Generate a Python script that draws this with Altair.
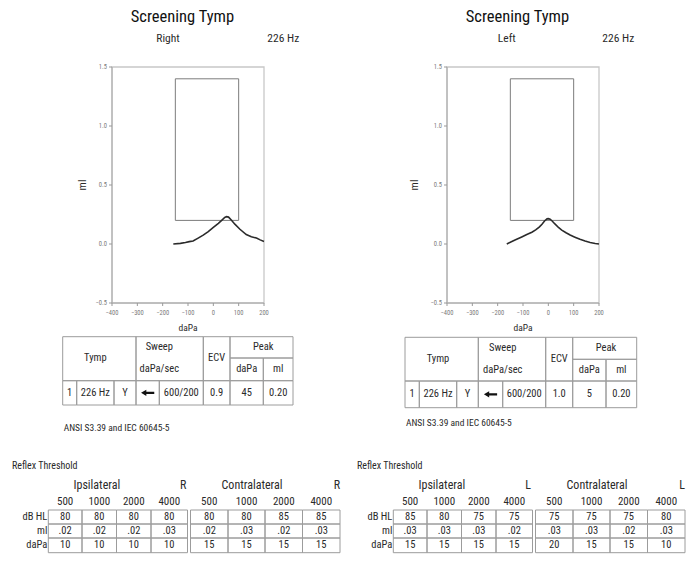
import altair as alt
import pandas as pd

# ---------------- values ----------------
TITLE = "Screening Tymp"
PROBE = "226 Hz"
EAR_R, EAR_L = "Right", "Left"
X_TITLE, Y_TITLE = "daPa", "ml"

X_TICKS = [-400, -300, -200, -100, 0, 100, 200]
Y_TICKS = [-0.5, 0.0, 0.5, 1.0, 1.5]
BOX_DAPA = [-150, 100]
BOX_ML = [0.2, 1.4]

dapa_R = [-158, -130, -110, -95, -80, -60, -40, -20, 0, 20, 35, 45, 52, 60, 70, 85, 105, 130, 150, 170, 185, 200]
ml_R = [0.0, 0.005, 0.012, 0.02, 0.025, 0.05, 0.075, 0.105, 0.14, 0.175, 0.205, 0.225, 0.232, 0.228, 0.205, 0.168,
        0.125, 0.08, 0.062, 0.05, 0.035, 0.022]
dapa_L = [-164, -140, -125, -105, -85, -65, -50, -35, -25, -15, -5, 0, 7, 15, 26, 40, 53, 70, 86, 105, 125, 145,
          165, 185, 200]
ml_L = [0.0, 0.025, 0.04, 0.06, 0.08, 0.1, 0.12, 0.145, 0.168, 0.195, 0.213, 0.215, 0.21, 0.195, 0.17, 0.14, 0.118,
        0.095, 0.076, 0.058, 0.04, 0.025, 0.012, 0.004, 0.0]

TYMP_HEAD = ["Tymp", "Sweep", "daPa/sec", "ECV", "Peak", "daPa", "ml"]
tymp_row_R = ["1", "226 Hz", "Y", "←", "600/200", "0.9", "45", "0.20"]
tymp_row_L = ["1", "226 Hz", "Y", "←", "600/200", "1.0", "5", "0.20"]
STANDARD = "ANSI S3.39 and IEC 60645-5"

REFLEX_TITLE = "Reflex Threshold"
GROUPS = ["Ipsilateral", "Contralateral"]
FREQS = ["500", "1000", "2000", "4000"]
ROW_NAMES = ["dB HL", "ml", "daPa"]

ipsi_dbhl_R = ["80", "80", "80", "80"]
ipsi_ml_R = [".02", ".02", ".02", ".03"]
ipsi_dapa_R = ["10", "10", "10", "10"]
contra_dbhl_R = ["80", "80", "85", "85"]
contra_ml_R = [".02", ".03", ".02", ".03"]
contra_dapa_R = ["15", "15", "15", "15"]

ipsi_dbhl_L = ["85", "80", "75", "75"]
ipsi_ml_L = [".03", ".03", ".03", ".02"]
ipsi_dapa_L = ["15", "15", "15", "15"]
contra_dbhl_L = ["75", "75", "75", "80"]
contra_ml_L = [".03", ".03", ".02", ".03"]
contra_dapa_L = ["20", "15", "15", "10"]

# ---------------- layout (pixel positions of the page) ----------------
M = 8  # page margin
FONT = "Roboto Condensed, Liberation Sans Narrow, Arial Narrow, Liberation Sans, sans-serif"
INK = "#2a2a2a"
GRID = "#9c9c9c"

PLOT_Y = [303, 67]
PLOT_X_R, PLOT_X_L = [112, 264], [447, 599]
TT_X_R = [62.7, 76.7, 114, 136, 159.3, 203.3, 230, 263.3, 293]
TT_Y_R = [336.7, 358, 380.7, 405, 428]
TT_X_L = [405, 419.3, 456.7, 478.3, 502.7, 545.7, 572.7, 606, 636.7]
TT_Y_L = [337.3, 359.3, 381, 407.7, 423.3]
RF_X_R = [12, 48.3, 82, 116.5, 151, 187.5, 190.5, 228, 265, 302.5, 340]
RF_X_L = [v + 345 for v in RF_X_R]
RF_Y = [466, 485, 502, 510, 524, 538, 552.7]

HEAD_CELLS = [(0, 3, 0, 2), (3, 5, 0, 2), (5, 6, 0, 2), (6, 8, 0, 1), (6, 7, 1, 2), (7, 8, 1, 2)]
HEAD_POS = [(1.5, 1), (4, 0.5), (4, 1.5), (5.5, 1), (7, 0.5), (6.5, 1.5), (7.5, 1.5)]
ARROW = "M -1 0 L -0.2 -0.48 L -0.2 -0.18 L 1 -0.18 L 1 0.18 L -0.2 0.18 L -0.2 0.48 Z"


def px(vals):
    return [v - M for v in vals]


def lin(domain, rng):
    return alt.Scale(domain=domain, range=px(rng), nice=False, zero=False)


def enc(xs, ys, x2=None, y2=None, **more):
    e = dict(x=alt.X("x:Q", scale=xs, axis=None), y=alt.Y("y:Q", scale=ys, axis=None))
    if x2:
        e["x2"] = alt.X2(f"{x2}:Q")
    if y2:
        e["y2"] = alt.Y2(f"{y2}:Q")
    e.update(more)
    return e


def txt(df, xs, ys, **kw):
    style = dict(font=FONT, color=INK)
    style.update(kw)
    return alt.Chart(df).mark_text(**style).encode(**enc(xs, ys, text="t:N"))


def one(t, x, y):
    return pd.DataFrame({"t": [t], "x": [x], "y": [y]})


def tymp_panel(ear, dapa, ml, plot_x, ear_x, ml_x):
    xs = lin([X_TICKS[0], X_TICKS[-1]], plot_x)
    ys = lin([Y_TICKS[0], Y_TICKS[-1]], PLOT_Y)
    x0, x1, y0, y1 = X_TICKS[0], X_TICKS[-1], Y_TICKS[0], Y_TICKS[-1]
    frame = alt.Chart(pd.DataFrame({"x": [x0], "x2": [x1], "y": [y0], "y2": [y1]})).mark_rect(
        fillOpacity=0, stroke="#c8c8c8", strokeWidth=1.3).encode(**enc(xs, ys, "x2", "y2"))
    axes = alt.Chart(pd.DataFrame({"x": [x0, x0], "x2": [x0, x1], "y": [y0, y0], "y2": [y1, y0]})).mark_rule(
        color="#a8a8a8", strokeWidth=1).encode(**enc(xs, ys, "x2", "y2"))
    xt = pd.DataFrame({"x": X_TICKS, "y": y0})
    yt = pd.DataFrame({"x": x0, "y": Y_TICKS})
    xticks = alt.Chart(xt).mark_rule(color="#999999", y2Offset=3).encode(**enc(xs, ys, y2="y"))
    yticks = alt.Chart(yt).mark_rule(color="#999999", x2Offset=-3).encode(**enc(xs, ys, x2="x"))
    xlab = alt.Chart(xt).mark_text(dy=10, fontSize=6.5, color="#7a7a7a", font=FONT).encode(
        **enc(xs, ys, text=alt.Text("x:Q", format="d")))
    ylab = alt.Chart(yt).mark_text(dx=-5, align="right", fontSize=6.5, color="#7a7a7a", font=FONT).encode(
        **enc(xs, ys, text=alt.Text("y:Q", format=".1f")))
    box = alt.Chart(pd.DataFrame({"x": [BOX_DAPA[0]], "x2": [BOX_DAPA[1]], "y": [BOX_ML[0]], "y2": [BOX_ML[1]]})).mark_rect(
        fillOpacity=0, stroke="#7c7c7c", strokeWidth=1).encode(**enc(xs, ys, "x2", "y2"))
    curve = alt.Chart(pd.DataFrame({"x": dapa, "y": ml})).mark_line(
        color="#2b2b2b", strokeWidth=1.6).encode(**enc(xs, ys))
    notes = [
        txt(one(TITLE, -122, 1.925), xs, ys, fontSize=16.5, color="#111111"),
        txt(one(ear, ear_x, 1.737), xs, ys, fontSize=11.5),
        txt(one(PROBE, 276, 1.737), xs, ys, fontSize=11.5),
        txt(one(Y_TITLE, ml_x, 0.5), xs, ys, fontSize=11, angle=270),
        txt(one(X_TITLE, -100, -0.712), xs, ys, fontSize=9.5),
    ]
    return alt.layer(frame, axes, xticks, yticks, xlab, ylab, box, curve, *notes)


def tymp_table(row, tx, ty):
    xs = lin(list(range(len(tx))), tx)
    ys = lin(list(range(len(ty))), ty)
    cells = [c for c in HEAD_CELLS] + [(i, i + 1, 2, 3) for i in range(len(row))]
    cdf = pd.DataFrame(cells, columns=["x", "x2", "y", "y2"])
    grid = alt.Chart(cdf).mark_rect(fillOpacity=0, stroke=GRID, strokeWidth=1).encode(**enc(xs, ys, "x2", "y2"))
    hdf = pd.DataFrame({"t": TYMP_HEAD, "x": [p[0] for p in HEAD_POS], "y": [p[1] for p in HEAD_POS]})
    head = txt(hdf, xs, ys, fontSize=10.5)
    vals = [(t, i + 0.5, 2.5) for i, t in enumerate(row) if t != "←"]
    vdf = pd.DataFrame(vals, columns=["t", "x", "y"])
    body = txt(vdf, xs, ys, fontSize=10.5)
    adf = pd.DataFrame({"x": [i + 0.5 for i, t in enumerate(row) if t == "←"], "y": [2.5]})
    arrow = alt.Chart(adf).mark_point(shape=ARROW, filled=True, color="#111111", opacity=1, size=175).encode(
        **enc(xs, ys))
    std = txt(one(STANDARD, 0, 4), xs, ys, fontSize=9.5, align="left", dx=1)
    return alt.layer(grid, head, body, arrow, std)


def reflex_table(side, ipsi, contra, rx):
    xs = lin([-1] + list(range(10)), rx)
    ys = lin(list(range(len(RF_Y))), RF_Y)
    rows = []
    for b, block in enumerate([ipsi, contra]):
        for r, series in enumerate(block):
            for c, v in enumerate(series):
                x0 = c + 5 * b
                rows.append((x0, x0 + 1, 3 + r, 4 + r, v))
    cdf = pd.DataFrame(rows, columns=["x", "x2", "y", "y2", "t"])
    grid = alt.Chart(cdf).mark_rect(fillOpacity=0, stroke=GRID, strokeWidth=1).encode(**enc(xs, ys, "x2", "y2"))
    vdf = pd.DataFrame({"t": cdf["t"], "x": cdf["x"] + 0.5, "y": cdf["y"] + 0.5})
    body = txt(vdf, xs, ys, fontSize=10.5)
    fdf = pd.DataFrame({"t": FREQS * 2, "x": [c + 0.5 + 5 * b for b in range(2) for c in range(len(FREQS))], "y": 2})
    freq = txt(fdf, xs, ys, fontSize=11)
    ldf = pd.DataFrame({"t": ROW_NAMES, "x": 0, "y": [3.5 + r for r in range(len(ROW_NAMES))]})
    labels = txt(ldf, xs, ys, fontSize=10.5, align="right", dx=-1)
    gdf = pd.DataFrame({"t": [GROUPS[0], side, GROUPS[1], side], "x": [1.43, 3.88, 6.65, 8.92], "y": 1})
    groups = txt(gdf, xs, ys, fontSize=12)
    title = txt(one(REFLEX_TITLE, -1, 0), xs, ys, fontSize=10, align="left")
    return alt.layer(grid, body, freq, labels, groups, title)


tympR = tymp_panel(EAR_R, dapa_R, ml_R, PLOT_X_R, -179, -515)
tympL = tymp_panel(EAR_L, dapa_L, ml_L, PLOT_X_L, -164, -526)
ttR = tymp_table(tymp_row_R, TT_X_R, TT_Y_R)
ttL = tymp_table(tymp_row_L, TT_X_L, TT_Y_L)
rfR = reflex_table("R", [ipsi_dbhl_R, ipsi_ml_R, ipsi_dapa_R], [contra_dbhl_R, contra_ml_R, contra_dapa_R], RF_X_R)
rfL = reflex_table("L", [ipsi_dbhl_L, ipsi_ml_L, ipsi_dapa_L], [contra_dbhl_L, contra_ml_L, contra_dapa_L], RF_X_L)

chart = alt.layer(tympR, tympL, ttR, ttL, rfR, rfL).resolve_scale(
    x="independent", y="independent"
).properties(
    width=679, height=557, padding=0, background="white",
    autosize=alt.AutoSizeParams(type="none"),
).configure_view(strokeWidth=0)

chart.save("out.html", embed_options={"renderer": "svg", "actions": False})
